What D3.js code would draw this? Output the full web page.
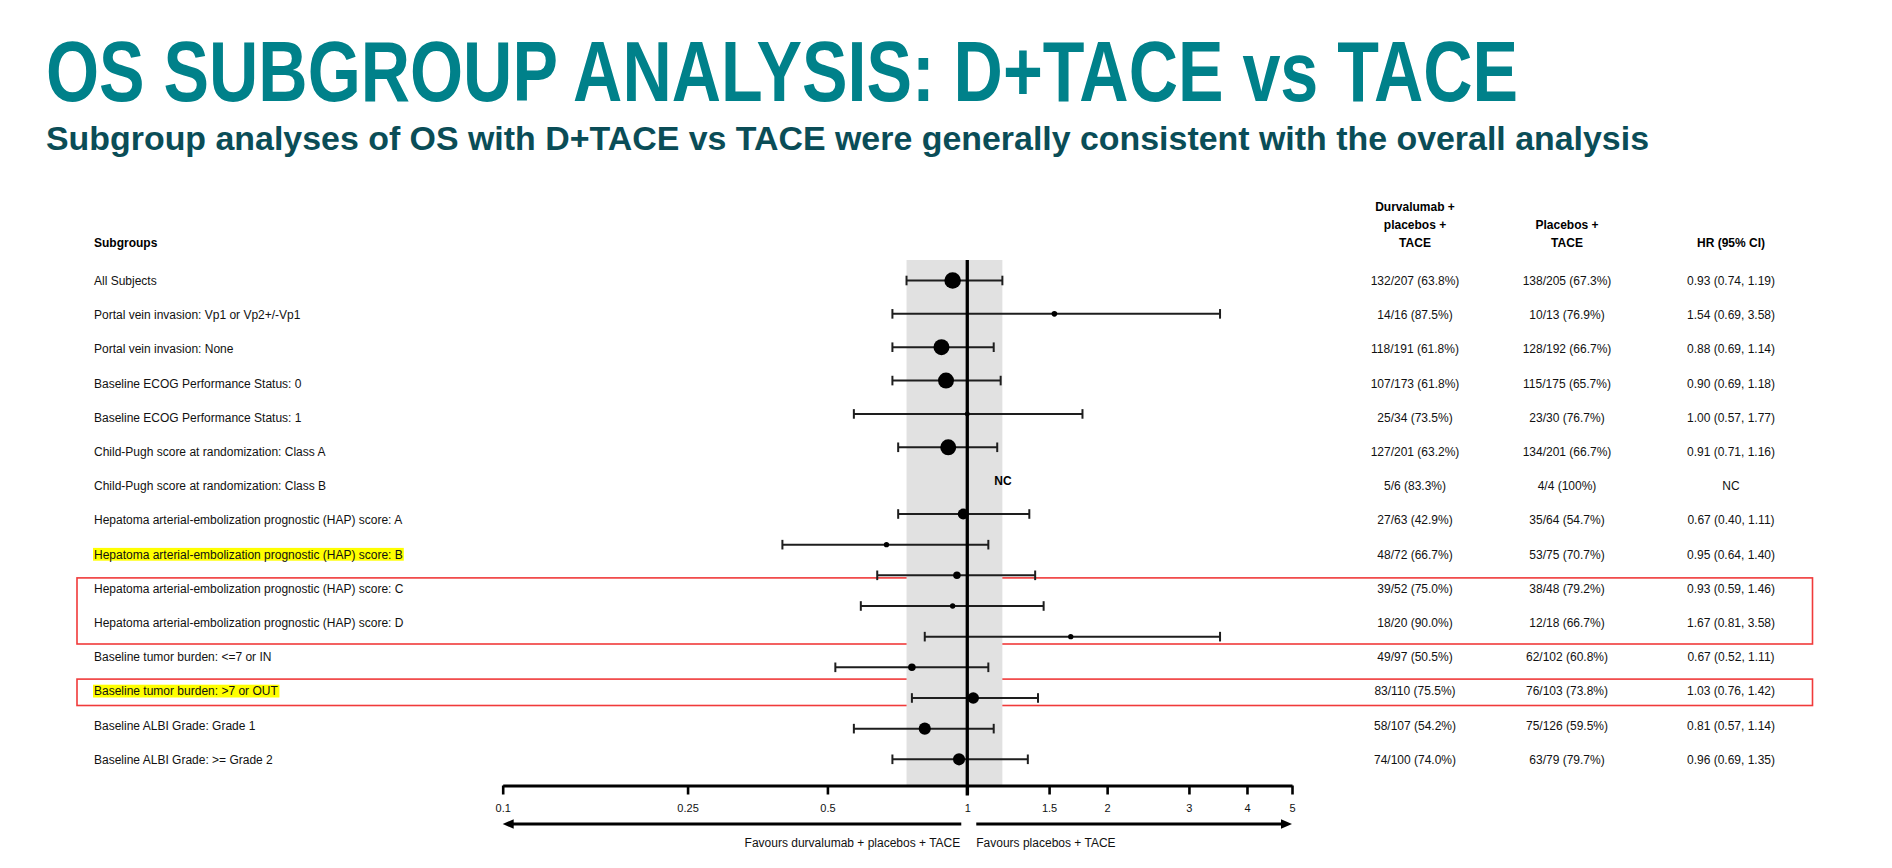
<!DOCTYPE html>
<html>
<head>
<meta charset="utf-8">
<script src="https://cdn.jsdelivr.net/npm/d3@7"></script>
<style>
  body { margin: 0; background: #ffffff; }
  svg text { font-family: "Liberation Sans", Arial, Helvetica, sans-serif; }
</style>
</head>
<body>
<svg id="chart" width="1892" height="868"></svg>
<script>
// ---------------- DATA ----------------
const titleText = "OS SUBGROUP ANALYSIS: D+TACE vs TACE";
const subtitleText = "Subgroup analyses of OS with D+TACE vs TACE were generally consistent with the overall analysis";

const subgroups = [
  "All Subjects",
  "Portal vein invasion: Vp1 or Vp2+/-Vp1",
  "Portal vein invasion: None",
  "Baseline ECOG Performance Status: 0",
  "Baseline ECOG Performance Status: 1",
  "Child-Pugh score at randomization: Class A",
  "Child-Pugh score at randomization: Class B",
  "Hepatoma arterial-embolization prognostic (HAP) score: A",
  "Hepatoma arterial-embolization prognostic (HAP) score: B",
  "Hepatoma arterial-embolization prognostic (HAP) score: C",
  "Hepatoma arterial-embolization prognostic (HAP) score: D",
  "Baseline tumor burden: <=7 or IN",
  "Baseline tumor burden: >7 or OUT",
  "Baseline ALBI Grade: Grade 1",
  "Baseline ALBI Grade: >= Grade 2"
];
const durvaEvents = [
  "132/207 (63.8%)", "14/16 (87.5%)", "118/191 (61.8%)", "107/173 (61.8%)", "25/34 (73.5%)",
  "127/201 (63.2%)", "5/6 (83.3%)", "27/63 (42.9%)", "48/72 (66.7%)", "39/52 (75.0%)",
  "18/20 (90.0%)", "49/97 (50.5%)", "83/110 (75.5%)", "58/107 (54.2%)", "74/100 (74.0%)"
];
const placeboEvents = [
  "138/205 (67.3%)", "10/13 (76.9%)", "128/192 (66.7%)", "115/175 (65.7%)", "23/30 (76.7%)",
  "134/201 (66.7%)", "4/4 (100%)", "35/64 (54.7%)", "53/75 (70.7%)", "38/48 (79.2%)",
  "12/18 (66.7%)", "62/102 (60.8%)", "76/103 (73.8%)", "75/126 (59.5%)", "63/79 (79.7%)"
];
const hrText = [
  "0.93 (0.74, 1.19)", "1.54 (0.69, 3.58)", "0.88 (0.69, 1.14)", "0.90 (0.69, 1.18)", "1.00 (0.57, 1.77)",
  "0.91 (0.71, 1.16)", "NC", "0.67 (0.40, 1.11)", "0.95 (0.64, 1.40)", "0.93 (0.59, 1.46)",
  "1.67 (0.81, 3.58)", "0.67 (0.52, 1.11)", "1.03 (0.76, 1.42)", "0.81 (0.57, 1.14)", "0.96 (0.69, 1.35)"
];
const columnHeaders = [
  ["Durvalumab +", "placebos +", "TACE"],
  ["Placebos +", "TACE"],
  ["HR (95% CI)"]
];
const highlightedRows = [8, 12];
const boxedRowGroups = [[9, 10], [12]];

// forest plot panel (its own 16 rows, as drawn)
const plotEst    = [0.93, 1.54, 0.88, 0.90, 1.00, 0.91, null, 0.98, 0.67, 0.95, 0.93, 1.67, 0.76, 1.03, 0.81, 0.96];
const plotLo     = [0.74, 0.69, 0.69, 0.69, 0.57, 0.71, null, 0.71, 0.40, 0.64, 0.59, 0.81, 0.52, 0.76, 0.57, 0.69];
const plotHi     = [1.19, 3.50, 1.14, 1.18, 1.77, 1.16, null, 1.36, 1.11, 1.40, 1.46, 3.50, 1.11, 1.42, 1.14, 1.35];
const plotWeight = [69, 8, 64, 64, 6, 64, 0, 30, 7, 14, 7, 7, 14, 33, 37, 37];
const plotNCLabel = "NC";
const referenceBand = [0.74, 1.19];

const tickValues = [0.1, 0.25, 0.5, 1, 1.5, 2, 3, 4, 5];
const tickLabels = ["0.1", "0.25", "0.5", "1", "1.5", "2", "3", "4", "5"];
const favoursLeft = "Favours durvalumab + placebos + TACE";
const favoursRight = "Favours placebos + TACE";

// ---------------- LAYOUT ----------------
const svg = d3.select("#chart");
const TEAL = "#00818a", DARKTEAL = "#0a4d57";

const x = d3.scaleLog().domain([0.1, 5]).range([502.7, 1292]);
const rowY = d3.scaleLinear().domain([0, subgroups.length - 1]).range([280.7, 759.5]);
const plotY = d3.scaleLinear().domain([0, 7, 15]).range([280.5, 514, 759.3]);
const r = d3.scaleSqrt().domain([0, 69]).range([0, 8.3]);
const colX = [1415, 1567, 1731];
const labelX = 94;
const axisY = 785.5, bandTop = 260;

// title & subtitle
svg.append("text").attr("x", 46).attr("y", 100.5)
  .attr("font-size", 85).attr("font-weight", "bold").attr("fill", TEAL)
  .attr("textLength", 1472).attr("lengthAdjust", "spacingAndGlyphs")
  .text(titleText);
svg.append("text").attr("x", 46).attr("y", 150)
  .attr("font-size", 34).attr("font-weight", "bold").attr("fill", DARKTEAL)
  .attr("textLength", 1603).attr("lengthAdjust", "spacingAndGlyphs")
  .text(subtitleText);

// headers
svg.append("text").attr("x", labelX).attr("y", 242.5).attr("dy", "0.35em")
  .attr("font-size", 12).attr("font-weight", "bold").text("Subgroups");
columnHeaders.forEach((lines, c) => {
  lines.forEach((ln, k) => {
    svg.append("text").attr("x", colX[c]).attr("y", 242.5 - (lines.length - 1 - k) * 17.8)
      .attr("dy", "0.35em").attr("text-anchor", "middle")
      .attr("font-size", 12).attr("font-weight", "bold").text(ln);
  });
});

// highlight layer (below text)
const hlLayer = svg.append("g");

// row labels
const labels = svg.append("g").selectAll("text").data(subgroups).join("text")
  .attr("x", labelX).attr("y", (d, i) => rowY(i)).attr("dy", "0.35em")
  .attr("font-size", 12).attr("fill", "#111").text(d => d);

labels.each(function (d, i) {
  if (highlightedRows.includes(i)) {
    const b = this.getBBox();
    hlLayer.append("rect").attr("x", b.x - 1).attr("y", rowY(i) - 6.4)
      .attr("width", b.width + 2).attr("height", 12.8).attr("fill", "#ffff00");
  }
});

[durvaEvents, placeboEvents, hrText].forEach((col, c) => {
  svg.append("g").selectAll("text").data(col).join("text")
    .attr("x", colX[c]).attr("y", (d, i) => rowY(i)).attr("dy", "0.35em")
    .attr("text-anchor", "middle").attr("font-size", 12).attr("fill", "#111").text(d => d);
});

// red boxes
boxedRowGroups.forEach(g => {
  const first = g[0], last = g[g.length - 1];
  const top = rowY(first) - (g.length > 1 ? 10.6 : 12);
  const bot = rowY(last) + (g.length > 1 ? 21.3 : 14.4);
  svg.append("rect").attr("x", 77).attr("y", top).attr("width", 1812.5 - 77).attr("height", bot - top)
    .attr("fill", "none").attr("stroke", "#f03a3a").attr("stroke-width", 1.6);
});

// forest panel
svg.append("rect").attr("x", x(referenceBand[0])).attr("y", bandTop)
  .attr("width", x(referenceBand[1]) - x(referenceBand[0])).attr("height", axisY - bandTop)
  .attr("fill", "#e1e1e1");

const pts = plotEst.map((e, i) => ({ e, lo: plotLo[i], hi: plotHi[i], w: plotWeight[i], i }));
const valid = pts.filter(d => d.e !== null);
const ci = svg.append("g").attr("stroke", "#1e1e1e").attr("stroke-width", 2);
ci.selectAll("line.ci").data(valid).join("line").attr("class", "ci")
  .attr("x1", d => x(d.lo)).attr("x2", d => x(d.hi))
  .attr("y1", d => plotY(d.i)).attr("y2", d => plotY(d.i));
ci.selectAll("line.capl").data(valid).join("line").attr("class", "capl")
  .attr("x1", d => x(d.lo)).attr("x2", d => x(d.lo))
  .attr("y1", d => plotY(d.i) - 4.8).attr("y2", d => plotY(d.i) + 4.8);
ci.selectAll("line.caph").data(valid).join("line").attr("class", "caph")
  .attr("x1", d => x(d.hi)).attr("x2", d => x(d.hi))
  .attr("y1", d => plotY(d.i) - 4.8).attr("y2", d => plotY(d.i) + 4.8);

// reference line at HR = 1
svg.append("line").attr("x1", x(1)).attr("x2", x(1)).attr("y1", bandTop).attr("y2", axisY + 10)
  .attr("stroke", "#000").attr("stroke-width", 3.3);

svg.append("g").selectAll("circle").data(valid).join("circle")
  .attr("cx", d => x(d.e)).attr("cy", d => plotY(d.i)).attr("r", d => r(d.w)).attr("fill", "#000");

pts.filter(d => d.e === null).forEach(d => {
  svg.append("text").attr("x", x(1) + 27).attr("y", plotY(d.i)).attr("dy", "0.35em")
    .attr("font-size", 12).attr("font-weight", "bold").text(plotNCLabel);
});

// axis
const axis = d3.axisBottom(x).tickValues(tickValues).tickFormat((d, i) => tickLabels[i])
  .tickSize(9).tickSizeOuter(0).tickPadding(10);
const ag = svg.append("g").attr("transform", `translate(0,${axisY})`).call(axis);
ag.select(".domain").attr("stroke", "#000").attr("stroke-width", 3);
ag.selectAll(".tick line").attr("stroke", "#000").attr("stroke-width", 2.6);
ag.selectAll(".tick text").attr("font-size", 11).attr("fill", "#111")
  .attr("font-family", "Liberation Sans, Arial, sans-serif");

// arrows
const arrowY = 824;
const arrows = svg.append("g");
arrows.append("line").attr("x1", x(1) - 6).attr("x2", x(0.1) + 8).attr("y1", arrowY).attr("y2", arrowY)
  .attr("stroke", "#000").attr("stroke-width", 3);
arrows.append("path")
  .attr("d", `M${x(0.1)},${arrowY} L${x(0.1) + 11},${arrowY - 4.8} L${x(0.1) + 11},${arrowY + 4.8} Z`)
  .attr("fill", "#000");
arrows.append("line").attr("x1", x(1) + 9).attr("x2", x(5) - 8).attr("y1", arrowY).attr("y2", arrowY)
  .attr("stroke", "#000").attr("stroke-width", 3);
arrows.append("path")
  .attr("d", `M${x(5)},${arrowY} L${x(5) - 11},${arrowY - 4.8} L${x(5) - 11},${arrowY + 4.8} Z`)
  .attr("fill", "#000");

svg.append("text").attr("x", x(1) - 7).attr("y", 842.5).attr("dy", "0.35em")
  .attr("text-anchor", "end").attr("font-size", 12).attr("fill", "#111").text(favoursLeft);
svg.append("text").attr("x", x(1) + 9).attr("y", 842.5).attr("dy", "0.35em")
  .attr("text-anchor", "start").attr("font-size", 12).attr("fill", "#111").text(favoursRight);
</script>
</body>
</html>
